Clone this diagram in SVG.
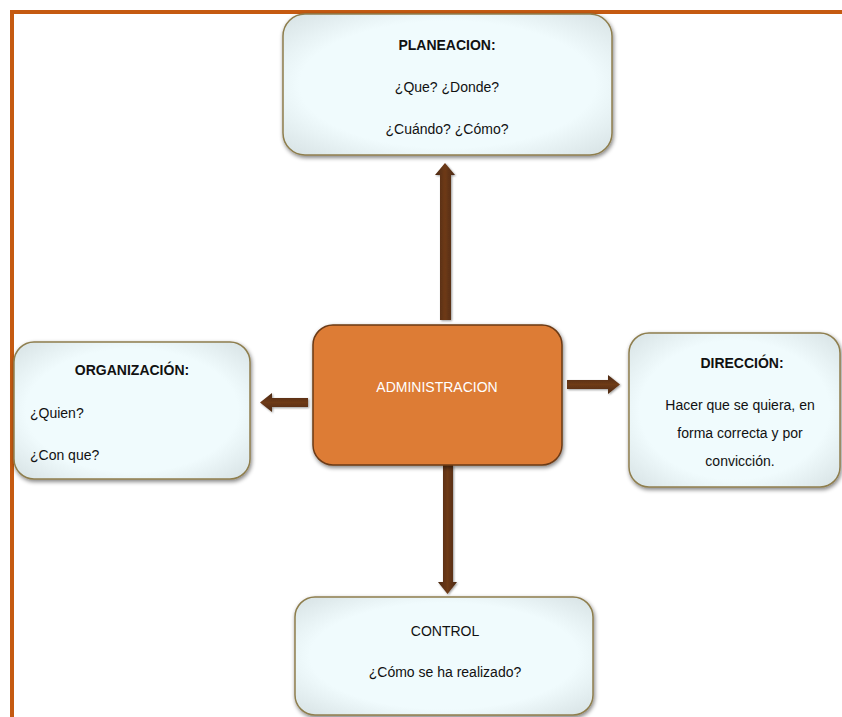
<svg xmlns="http://www.w3.org/2000/svg" width="842" height="717" viewBox="0 0 842 717">
<defs>
<style>
.box{fill:url(#lightGrad);stroke:#8E7E4E;stroke-width:1.5;filter:url(#sh)}
.center{fill:#DD7B35;stroke:#6B3A16;stroke-width:1.5;filter:url(#sh)}
.t{font-family:"Liberation Sans",Arial,sans-serif;font-size:14px;fill:#111}
.b{font-weight:bold}
.w{fill:#ffffff;font-size:14px}
.arrow{fill:url(#arrowGrad);filter:url(#sh2)}
.arrowH{fill:url(#arrowGradH);filter:url(#sh2)}
</style>
<radialGradient id="lightGrad" cx="50%" cy="50%" r="75%">
<stop offset="0.6" stop-color="#F0FBFD"/>
<stop offset="0.9" stop-color="#D9E4E6"/>
<stop offset="1" stop-color="#9EA6A8"/>
</radialGradient>
<linearGradient id="arrowGrad" x1="0" y1="0" x2="1" y2="0">
<stop offset="0" stop-color="#4A2810"/>
<stop offset="0.5" stop-color="#6E3A18"/>
<stop offset="1" stop-color="#4A2810"/>
</linearGradient>
<linearGradient id="arrowGradH" x1="0" y1="0" x2="0" y2="1">
<stop offset="0" stop-color="#4A2810"/>
<stop offset="0.5" stop-color="#6E3A18"/>
<stop offset="1" stop-color="#4A2810"/>
</linearGradient>
<filter id="sh" x="-10%" y="-10%" width="120%" height="125%">
<feGaussianBlur in="SourceAlpha" stdDeviation="2"/>
<feOffset dx="1" dy="2" result="o"/>
<feComponentTransfer><feFuncA type="linear" slope="0.5"/></feComponentTransfer>
<feMerge><feMergeNode/><feMergeNode in="SourceGraphic"/></feMerge>
</filter>
<filter id="sh2" x="-50%" y="-20%" width="200%" height="140%">
<feGaussianBlur in="SourceAlpha" stdDeviation="1"/>
<feOffset dx="1" dy="1"/>
<feComponentTransfer><feFuncA type="linear" slope="0.4"/></feComponentTransfer>
<feMerge><feMergeNode/><feMergeNode in="SourceGraphic"/></feMerge>
</filter>
</defs>
<rect width="842" height="717" fill="#ffffff"/>
<g id="frame">
<path d="M12 717 V12 H842" fill="none" stroke="#C55A11" stroke-width="4"/>
</g>
<g id="connectors">
<path class="arrow" d="M440 320 V175 H435 L445 163 L455 175 H451 V320 Z"/>
<path class="arrow" d="M443 465 V582 H438 L447.5 594 L457 582 H453 V465 Z"/>
<path class="arrowH" d="M308 398 H272 V393 L260 402.5 L272 412 V407 H308 Z"/>
<path class="arrowH" d="M567 380 H608 V375 L620 384.5 L608 394 V389 H567 Z"/>
</g>
<g id="planeacion">
<rect class="box" x="283" y="14" width="329" height="141" rx="22"/>
<text class="t b" x="447" y="50" text-anchor="middle">PLANEACION:</text>
<text class="t" x="447" y="92" text-anchor="middle">¿Que? ¿Donde?</text>
<text class="t" x="447" y="134" text-anchor="middle">¿Cuándo? ¿Cómo?</text>
</g>
<g id="administracion">
<rect class="center" x="313" y="325" width="249" height="140" rx="20"/>
<text class="t w" x="437" y="392" text-anchor="middle">ADMINISTRACION</text>
</g>
<g id="organizacion">
<rect class="box" x="14" y="342" width="236" height="137" rx="20"/>
<text class="t b" x="132" y="375" text-anchor="middle">ORGANIZACIÓN:</text>
<text class="t" x="30" y="418">¿Quien?</text>
<text class="t" x="30" y="460">¿Con que?</text>
</g>
<g id="direccion">
<rect class="box" x="629" y="333" width="211" height="154" rx="20"/>
<text class="t b" x="742" y="368" text-anchor="middle">DIRECCIÓN:</text>
<text class="t" x="740" y="410" text-anchor="middle">Hacer que se quiera, en</text>
<text class="t" x="740" y="438" text-anchor="middle">forma correcta y por</text>
<text class="t" x="740" y="466" text-anchor="middle">convicción.</text>
</g>
<g id="control">
<rect class="box" x="295" y="597" width="298" height="118" rx="20"/>
<text class="t" x="445" y="636" text-anchor="middle">CONTROL</text>
<text class="t" x="445" y="677" text-anchor="middle">¿Cómo se ha realizado?</text>
</g>
</svg>
